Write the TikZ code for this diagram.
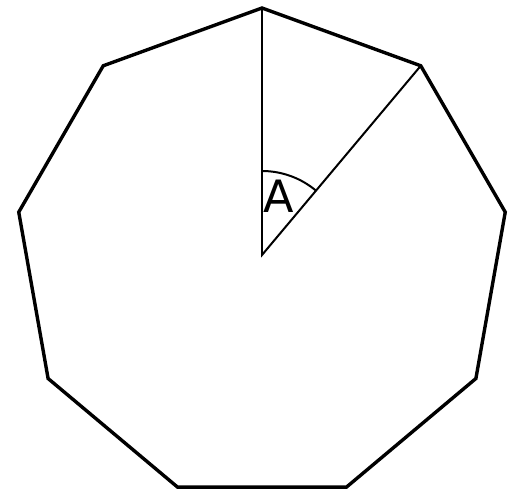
\documentclass[tikz,border=0pt]{standalone}
\usepackage{fontspec}
\setmainfont{DejaVu Sans}
\usetikzlibrary{calc}
\tikzset{
  rim/.style={line width=2.9pt, line join=miter},
  spoke/.style={line width=1.7pt},
  anglelabel/.style={font=\fontsize{38}{38}\selectfont, inner sep=0pt}
}

\begin{document}
\begin{tikzpicture}[x=0.03cm, y=0.03cm]
      \useasboundingbox (0,0) rectangle (522,496);
      \coordinate (c) at (262,241);
      \foreach \i in {0,...,8}
        \coordinate (v\i) at ($(c)+({90-40*\i}:247)$);
      \draw[rim](v0)--(v1)--(v2)--(v3)--(v4)--(v5)--(v6)--(v7)--(v8)--cycle;
      \draw[spoke](v0)--(c)--(v1);
      \draw[spoke]($(c)+(90:84)$) arc[start angle=90, end angle=50, radius=2.52cm];
      \node[anglelabel](lblA)at(279,300){A};
    \end{tikzpicture}
\end{document}
